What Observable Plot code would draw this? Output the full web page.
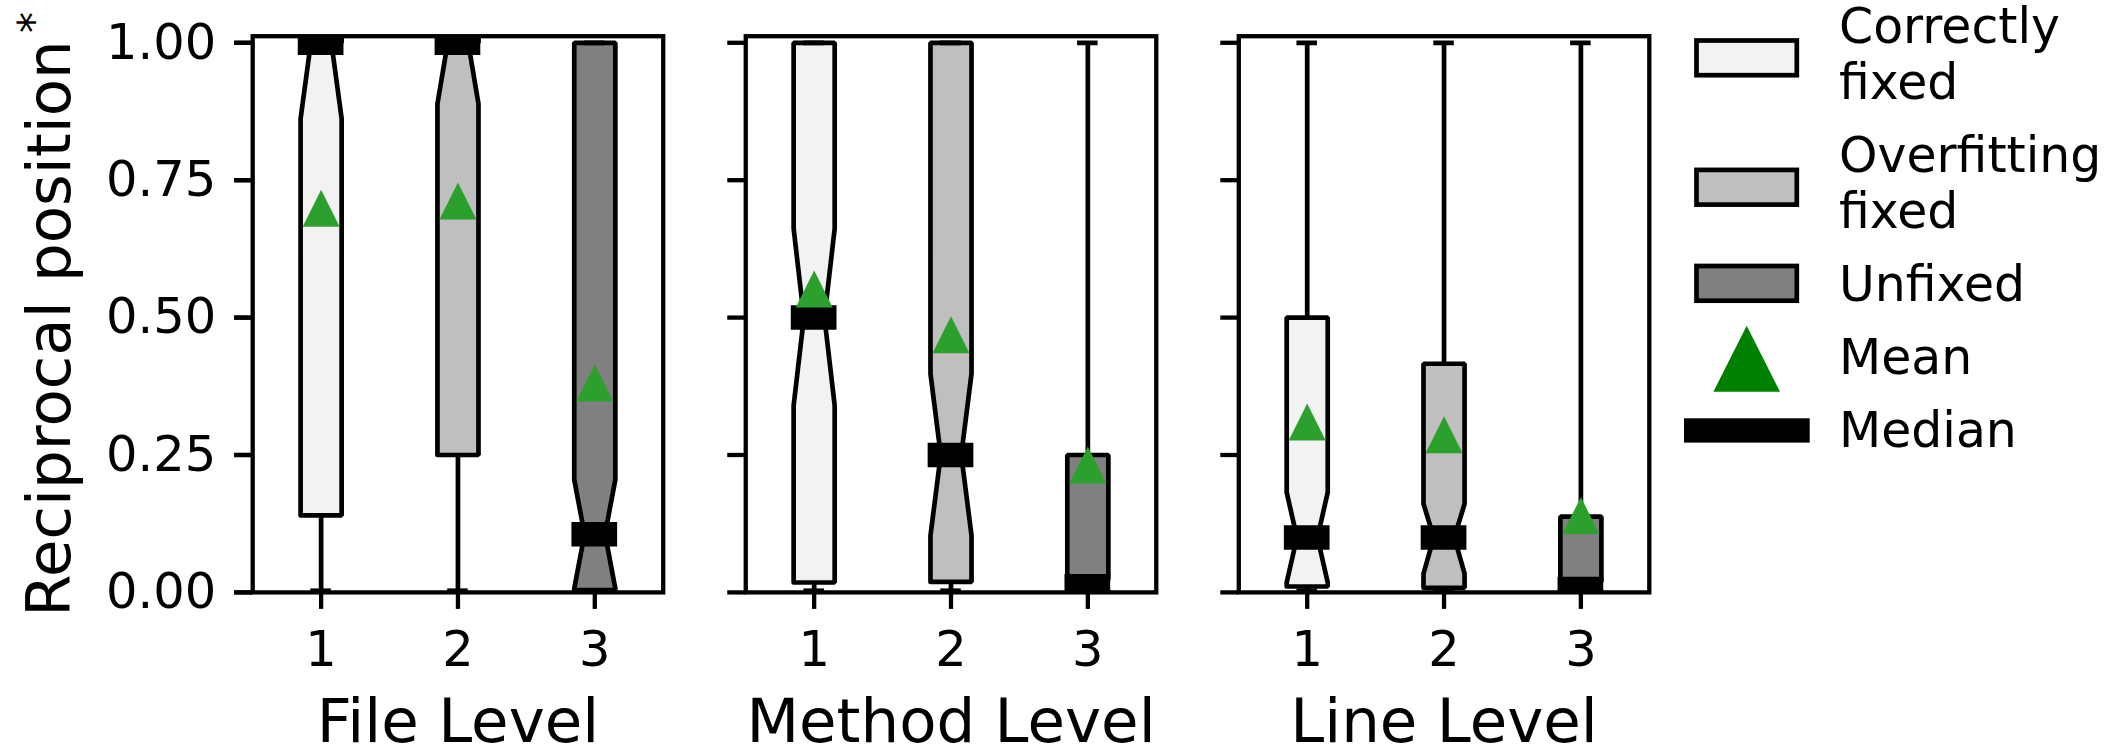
<!DOCTYPE html>
<html>
<head>
<meta charset="utf-8">
<script src="https://cdn.jsdelivr.net/npm/d3@7"></script>
<script src="https://cdn.jsdelivr.net/npm/@observablehq/plot@0.6"></script>
<style>
  html, body { margin: 0; padding: 0; background: #fff; }
  #chart { width: 2126px; height: 745px; }
</style>
</head>
<body>
<div id="chart"></div>
<script>
// ---------- data ----------
const levels = ["File Level", "Method Level", "Line Level"];
const groups = ["Correctly fixed", "Overfitting fixed", "Unfixed"];
const positions = [1, 2, 3];
const groupFills = ["#f2f2f2", "#bfbfbf", "#808080"];
const yTicks = [0, 0.25, 0.5, 0.75, 1];
const xTicks = [1, 2, 3];

// rows: level, columns: group
const q1Values      = [[0.140, 0.250, 0.004], [0.018, 0.019, 0.004], [0.0107, 0.0084, 0.003]];
const q3Values      = [[1.000, 1.000, 1.000], [1.000, 1.000, 0.250], [0.500, 0.416, 0.1377]];
const medianValues  = [[1.000, 1.000, 0.106], [0.500, 0.250, 0.011], [0.100, 0.100, 0.006]];
const notchLoValues = [[0.862, 0.889, 0.007], [0.340, 0.1035, 0.000], [0.018, 0.034, 0.000]];
const notchHiValues = [[1.138, 1.111, 0.205], [0.662, 0.398, 0.024], [0.182, 0.161, 0.020]];
const whiskerLo     = [[0.003, 0.003, 0.000], [0.003, 0.003, 0.000], [0.003, 0.003, 0.000]];
const whiskerHi     = [[1.000, 1.000, 1.000], [1.000, 1.000, 1.000], [1.000, 1.000, 1.000]];
const meanValues    = [[0.699, 0.712, 0.381], [0.552, 0.469, 0.232], [0.310, 0.287, 0.140]];

const legendLines = [["Correctly", "fixed"], ["Overfitting", "fixed"], ["Unfixed"], ["Mean"], ["Median"]];

// ---------- build records ----------
const records = [];
levels.forEach((level, li) => {
  groups.forEach((group, gi) => {
    records.push({
      id: li * 3 + gi, level, group, pos: positions[gi], fill: groupFills[gi],
      q1: q1Values[li][gi], q3: q3Values[li][gi], med: medianValues[li][gi],
      nlo: notchLoValues[li][gi], nhi: notchHiValues[li][gi],
      wlo: whiskerLo[li][gi], whi: whiskerHi[li][gi], mean: meanValues[li][gi]
    });
  });
});

const BOX = 0.15, NOTCH = 0.075, CAP = 0.075, MED = 0.167;
// notched box outline (matplotlib-style path)
const boxPts = [];
records.forEach(r => {
  const L = r.pos - BOX, R = r.pos + BOX, cl = r.pos - NOTCH, cr = r.pos + NOTCH;
  const pts = [
    [L, r.q1], [L, r.nlo], [cl, r.med], [L, r.nhi], [L, r.q3],
    [R, r.q3], [R, r.nhi], [cr, r.med], [R, r.nlo], [R, r.q1], [L, r.q1]
  ];
  pts.forEach(([x, y]) => boxPts.push({id: r.id, level: r.level, fill: r.fill, x, y}));
});

const triangle = {
  draw(context, size) {
    const h = Math.sqrt(size / Math.PI);
    context.moveTo(0, -h);
    context.lineTo(h, h);
    context.lineTo(-h, h);
    context.closePath();
  }
};

const LW = 4.7;
const AX = 4.3;
const svg = Plot.plot({
  width: 2126,
  height: 745,
  marginLeft: 252.2,
  marginRight: 477.2,
  marginTop: 35.7,
  marginBottom: 153.1,
  style: {fontFamily: "DejaVu Sans", color: "black", background: "white"},
  x: {domain: [0.5, 3.5], label: null},
  y: {domain: [0, 1.012], label: null},
  fx: {domain: levels, label: null, paddingInner: 0.1674, paddingOuter: 0, round: false},
  color: {type: "identity"},
  marks: [
    Plot.line(boxPts, {fx: "level", x: "x", y: "y", z: "id", fill: "fill", stroke: "black",
      strokeWidth: LW, strokeLinejoin: "miter", clip: true}),
    Plot.ruleX(records, {fx: "level", x: "pos", y1: "q1", y2: "wlo", stroke: "black", strokeWidth: LW, clip: true}),
    Plot.ruleX(records, {fx: "level", x: "pos", y1: "q3", y2: "whi", stroke: "black", strokeWidth: LW, clip: true}),
    Plot.ruleY(records, {fx: "level", y: "wlo", x1: d => d.pos - CAP, x2: d => d.pos + CAP, stroke: "black", strokeWidth: LW, clip: true}),
    Plot.ruleY(records, {fx: "level", y: "whi", x1: d => d.pos - CAP, x2: d => d.pos + CAP, stroke: "black", strokeWidth: LW, clip: true}),
    Plot.ruleY(records, {fx: "level", y: "med", x1: d => d.pos - MED, x2: d => d.pos + MED, stroke: "black", strokeWidth: 24.5, clip: true}),
    Plot.dot(records, {fx: "level", x: "pos", y: "mean", symbol: triangle, r: 18.5, fill: "#2ca02c", stroke: "none"}),
    Plot.frame({stroke: "black", strokeWidth: AX}),
    Plot.axisY({facetAnchor: null, ticks: yTicks, tickSize: 18, tickFormat: () => "", strokeWidth: AX, label: null}),
    Plot.axisY({ticks: yTicks, tickSize: 18, tickPadding: 18.5, tickFormat: d3.format(".2f"), fontSize: 49.5, strokeWidth: AX, label: null}),
    Plot.axisX({ticks: xTicks, tickSize: 17, tickPadding: 21.4, tickFormat: d => String(d), fontSize: 49.5, strokeWidth: AX, label: null}),
    Plot.axisFx({anchor: "bottom", tickSize: 0, tickPadding: 106.3, fontSize: 61, label: null})
  ]
});

document.getElementById("chart").appendChild(svg);

// ---------- y label and legend ----------
const s = d3.select(svg);
s.append("text")
  .attr("transform", "translate(70,328.5) rotate(-90)")
  .attr("text-anchor", "middle")
  .attr("font-size", 61)
  .attr("fill", "black")
  .text("Reciprocal position");
s.append("text")
  .attr("transform", "translate(48,22.5) rotate(-90)")
  .attr("text-anchor", "middle")
  .attr("font-size", 42)
  .attr("fill", "black")
  .text("*");

const leg = s.append("g").attr("font-size", 48.9).attr("fill", "black").attr("text-anchor", "start");
const patchY = [40.5, 169.9, 266.0];
groups.forEach((g, i) => {
  leg.append("rect").attr("x", 1696.5).attr("y", patchY[i]).attr("width", 100.3).attr("height", 34.7)
    .attr("fill", groupFills[i]).attr("stroke", "black").attr("stroke-width", LW);
});
leg.append("path").attr("d", "M1746.7,325.7L1780,391.7L1713.4,391.7Z").attr("fill", "#008000");
leg.append("rect").attr("x", 1684).attr("y", 418.3).attr("width", 125.7).attr("height", 24.3).attr("fill", "black");
const baselines = [[42.7, 98.7], [171.7, 227.7], [300.7], [374], [446.7]];
legendLines.forEach((lines, i) => {
  lines.forEach((t, j) => {
    leg.append("text").attr("x", 1839).attr("y", baselines[i][j]).attr("text-anchor", "start").text(t);
  });
});
</script>
</body>
</html>
